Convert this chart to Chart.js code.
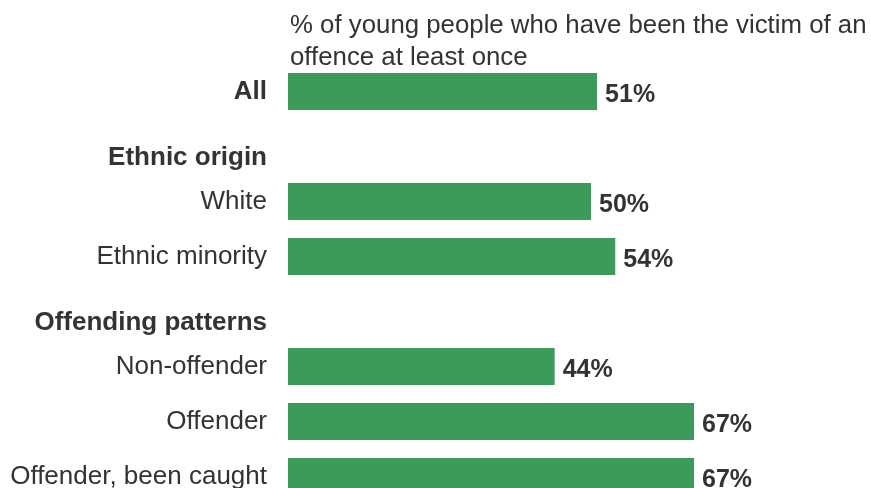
<!DOCTYPE html>
<html>
<head>
<meta charset="utf-8">
<script src="https://cdn.jsdelivr.net/npm/chart.js@4.4.0/dist/chart.umd.min.js"></script>
<style>
  html, body { margin: 0; padding: 0; background: #fff; overflow: hidden; }
  #wrap { width: 871px; height: 488px; overflow: hidden; }
</style>
</head>
<body>
<div id="wrap"><canvas id="victimChart" width="871" height="560"></canvas></div>
<script>
// Rows of the chart; headers have no value
const categories = ['All', 'Ethnic origin', 'White', 'Ethnic minority', 'Offending patterns', 'Non-offender', 'Offender', 'Offender, been caught'];
const headerRows = ['All', 'Ethnic origin', 'Offending patterns'];
const victimPct = [51, null, 50, 54, null, 44, 67, 67];
const titleLines = ['% of young people who have been the victim of an', 'offence at least once'];

const textColor = '#333333';
const barColor = '#3c9a5a';
const fontFamily = '"Liberation Sans", Arial, sans-serif';

document.addEventListener('DOMContentLoaded', function() {
  const ctx = document.getElementById('victimChart').getContext('2d');

  // Group headings sit a little below their row, so give them an empty first line
  const tickLabels = categories.map(c =>
    (headerRows.includes(c) && c !== 'All') ? ['', c] : c
  );

  const titlePlugin = {
    id: 'topTitle',
    afterDraw(chart) {
      const c = chart.ctx;
      c.save();
      c.font = '25.8px ' + fontFamily;
      c.fillStyle = textColor;
      c.textAlign = 'left';
      c.textBaseline = 'middle';
      titleLines.forEach((line, i) => {
        c.fillText(line, chart.chartArea.left + 2, 26 + i * 32);
      });
      c.restore();
    }
  };

  const valueLabels = {
    id: 'valueLabels',
    afterDatasetsDraw(chart) {
      const c = chart.ctx;
      const meta = chart.getDatasetMeta(0);
      c.save();
      c.font = 'bold 25px ' + fontFamily;
      c.fillStyle = textColor;
      c.textAlign = 'left';
      c.textBaseline = 'middle';
      meta.data.forEach((bar, i) => {
        const v = victimPct[i];
        if (v == null) return;
        c.fillText(v + '%', bar.x + 8, bar.y + 4);
      });
      c.restore();
    }
  };

  new Chart(ctx, {
    type: 'bar',
    data: {
      labels: tickLabels,
      datasets: [{
        data: victimPct,
        backgroundColor: barColor,
        borderWidth: 0,
        barPercentage: 0.67,
        categoryPercentage: 1
      }]
    },
    options: {
      indexAxis: 'y',
      responsive: false,
      animation: false,
      // bottom rows run past the visible area
      layout: { padding: { top: 64, left: 0, right: 0, bottom: 56 } },
      plugins: {
        legend: { display: false },
        tooltip: { enabled: false }
      },
      scales: {
        x: {
          min: 0,
          max: 96.2,
          display: false
        },
        y: {
          grid: { display: false, drawTicks: false },
          border: { display: false },
          afterFit: function(scale) { scale.width = 288; },
          ticks: {
            padding: 21,
            color: textColor,
            autoSkip: false,
            font: function(context) {
              const name = categories[context.index];
              const isHeader = headerRows.includes(name);
              return {
                family: fontFamily,
                size: 26,
                lineHeight: isHeader ? 0.9 : 1,
                weight: isHeader ? 'bold' : 'normal'
              };
            }
          }
        }
      }
    },
    plugins: [titlePlugin, valueLabels]
  });
});
</script>
</body>
</html>
